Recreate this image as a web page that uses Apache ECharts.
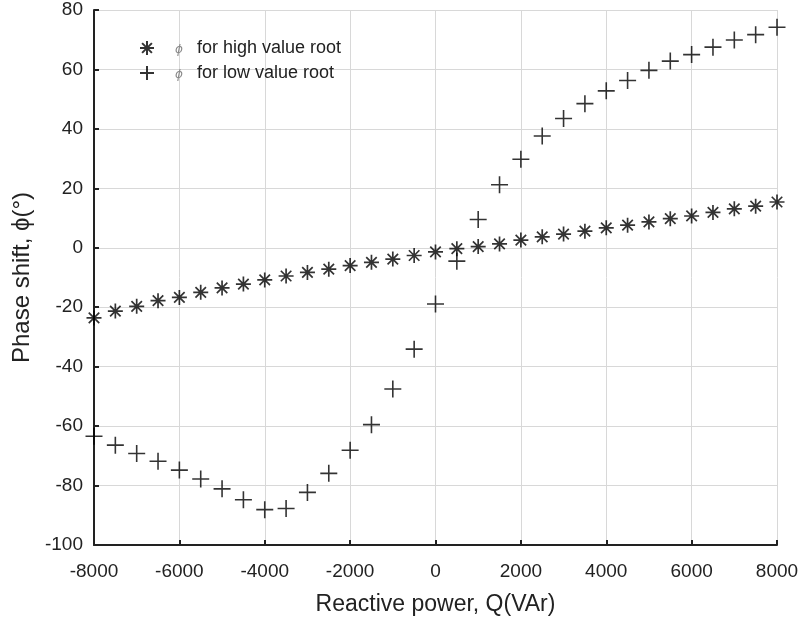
<!DOCTYPE html>
<html>
<head>
<meta charset="utf-8">
<script src="https://cdn.jsdelivr.net/npm/echarts@6/dist/echarts.min.js"></script>
<style>html,body{margin:0;padding:0;background:#fff}#c{width:802px;height:624px}</style>
</head>
<body>
<div id="c"></div>
<script>
const qValues = [-8000,-7500,-7000,-6500,-6000,-5500,-5000,-4500,-4000,-3500,-3000,-2500,-2000,-1500,-1000,-500,0,500,1000,1500,2000,2500,3000,3500,4000,4500,5000,5500,6000,6500,7000,7500,8000];
const phiHigh = [-23.6,-21.3,-19.7,-17.8,-16.7,-15.0,-13.5,-12.2,-10.8,-9.5,-8.3,-7.2,-6.0,-4.9,-3.8,-2.6,-1.4,-0.3,0.4,1.3,2.6,3.7,4.6,5.6,6.7,7.6,8.7,9.8,10.7,11.9,13.1,14.0,15.4];
const phiLow = [-63.4,-66.4,-69.2,-71.8,-74.8,-77.8,-81.1,-84.8,-88.1,-87.7,-82.3,-75.9,-68.1,-59.5,-47.5,-34.1,-18.9,-4.5,9.5,21.2,29.8,37.6,43.5,48.5,52.8,56.3,59.7,62.8,65.0,67.5,69.9,71.7,74.2];
const seriesNames = ['for high value root','for low value root'];
const xTitle = 'Reactive power, Q(VAr)';
const yTitle = 'Phase shift, ϕ(°)';

const ASTER = 'path://M5,0 L5,10 M0,5 L10,5 M1.5,1.5 L8.5,8.5 M1.5,8.5 L8.5,1.5';
const PLUS = 'path://M5,0 L5,10 M0,5 L10,5';
const font = 'Liberation Sans, Arial, sans-serif';

function pairs(ys){ return qValues.map((q,i)=>[q, ys[i]]); }

const chart = echarts.init(document.getElementById('c'));
chart.setOption({
  animation: false,
  backgroundColor: '#fff',
  grid: {left: 94, right: 25, top: 10, bottom: 79},
  legend: {
    orient: 'vertical', left: 134, top: 34, itemGap: 7,
    itemWidth: 14, itemHeight: 14,
    formatter: n => '{p|ϕ}{t|' + n + '}',
    textStyle: {
      fontFamily: font, fontSize: 18, color: '#222',
      rich: {
        p: {fontFamily: 'DejaVu Sans, sans-serif', fontStyle: 'italic', fontSize: 12, color: '#888', padding: [3, 14, 0, 16]},
        t: {fontFamily: font, fontSize: 18, color: '#222'}
      }
    },
    data: [
      {name: seriesNames[0], icon: ASTER},
      {name: seriesNames[1], icon: PLUS}
    ]
  },
  xAxis: {
    type: 'value', min: -8000, max: 8000, interval: 2000,
    name: xTitle, nameLocation: 'middle', nameGap: 48,
    nameTextStyle: {fontFamily: font, fontSize: 23, color: '#222'},
    axisLine: {show: true, onZero: false, lineStyle: {color: '#222', width: 2}},
    axisTick: {show: true, inside: true, length: 5, lineStyle: {color: '#222', width: 2}},
    axisLabel: {fontFamily: font, fontSize: 19, color: '#222', margin: 17, formatter: v => String(v)},
    splitLine: {show: true, lineStyle: {color: '#d8d8d8', width: 1}}
  },
  yAxis: {
    type: 'value', min: -100, max: 80, interval: 20,
    name: yTitle, nameLocation: 'middle', nameGap: 55, nameRotate: 90,
    nameTextStyle: {fontFamily: font, fontSize: 24, color: '#222'},
    axisLine: {show: true, onZero: false, lineStyle: {color: '#222', width: 2}},
    axisTick: {show: true, inside: true, length: 5, lineStyle: {color: '#222', width: 2}},
    axisLabel: {fontFamily: font, fontSize: 19, color: '#222', margin: 11, formatter: v => String(v)},
    splitLine: {show: true, lineStyle: {color: '#d8d8d8', width: 1}}
  },
  series: [
    {
      name: seriesNames[0], type: 'scatter', data: pairs(phiHigh),
      symbol: ASTER, symbolSize: 15,
      itemStyle: {color: 'rgba(0,0,0,0)', borderColor: '#000', borderWidth: 1.7}
    },
    {
      name: seriesNames[1], type: 'scatter', data: pairs(phiLow),
      symbol: PLUS, symbolSize: 17,
      itemStyle: {color: 'rgba(0,0,0,0)', borderColor: '#000', borderWidth: 1.6}
    }
  ]
});
</script>
</body>
</html>
